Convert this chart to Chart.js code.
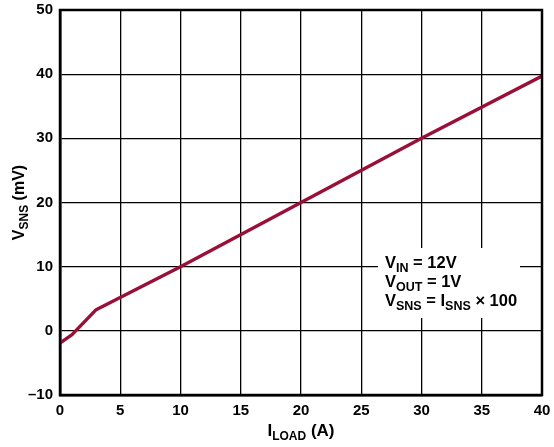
<!DOCTYPE html>
<html><head><meta charset="utf-8">
<script src="https://cdn.jsdelivr.net/npm/chart.js@4/dist/chart.umd.min.js"></script>
<style>html,body{margin:0;padding:0;background:#fff}#wrap{width:554px;height:447px}</style>
</head><body><div id="wrap"><canvas id="c" width="554" height="447"></canvas></div>
<script>
const loadCurrent = [0, 1, 3, 10, 20, 30, 40];
const senseVoltage = [-1.9, -0.6, 3.3, 10, 20, 30, 39.7];
const xTicks = [0, 5, 10, 15, 20, 25, 30, 35, 40];
const yTicks = [-10, 0, 10, 20, 30, 40, 50];
const noteLines = [
  [["V",0],["IN",1],[" = 12V",0]],
  [["V",0],["OUT",1],[" = 1V",0]],
  [["V",0],["SNS",1],[" = ",0],["I",0],["SNS",1],[" \u00d7 100",0]]
];

const FONT = '"Liberation Sans", Arial, sans-serif';
function drawRich(ctx, parts, x, y, align, big, small) {
  let w = 0;
  parts.forEach(p => { ctx.font = 'bold ' + (p[1] ? small : big) + 'px ' + FONT; w += ctx.measureText(p[0]).width; });
  let cx = align === 'center' ? x - w / 2 : x;
  parts.forEach(p => {
    ctx.font = 'bold ' + (p[1] ? small : big) + 'px ' + FONT;
    ctx.fillText(p[0], cx, y + (p[1] ? 4 : 0));
    cx += ctx.measureText(p[0]).width;
  });
}

const deco = {
  id: 'deco',
  afterDraw(chart) {
    const ctx = chart.ctx, a = chart.chartArea;
    ctx.save();
    ctx.strokeStyle = '#000'; ctx.lineWidth = 2.5;
    ctx.strokeRect(a.left, a.top, a.right - a.left, a.bottom - a.top);
    ctx.fillStyle = '#000'; ctx.textBaseline = 'alphabetic'; ctx.textAlign = 'left';
    drawRich(ctx, [["I",0],["LOAD",1],[" (A)",0]], (a.left + a.right) / 2, 436, 'center', 17, 12);
    ctx.save();
    ctx.translate(24, (a.top + a.bottom) / 2);
    ctx.rotate(-Math.PI / 2);
    drawRich(ctx, [["V",0],["SNS",1],[" (mV)",0]], 0, 0, 'center', 16, 12);
    ctx.restore();
    ctx.restore();
  },
  beforeDatasetsDraw(chart) {
    const ctx = chart.ctx;
    ctx.save();
    ctx.fillStyle = '#fff';
    ctx.fillRect(378, 248, 142, 70);
    ctx.fillStyle = '#000'; ctx.textBaseline = 'alphabetic';
    const base = [268, 287, 306];
    noteLines.forEach((ln, i) => drawRich(ctx, ln, 385, base[i], 'left', 16.5, 12.5));
    ctx.restore();
  }
};

new Chart(document.getElementById('c'), {
  type: 'line',
  data: {
    datasets: [{
      data: loadCurrent.map((x, i) => ({x: x, y: senseVoltage[i]})),
      borderColor: '#9a0f38', borderWidth: 3.4, pointRadius: 0, tension: 0, fill: false,
      borderCapStyle: 'butt', borderJoinStyle: 'round'
    }]
  },
  options: {
    responsive: false, animation: false,
    layout: {padding: {top: 10, right: 12, left: 0, bottom: 0}},
    plugins: {legend: {display: false}, tooltip: {enabled: false}},
    scales: {
      x: {
        type: 'linear', min: 0, max: 40,
        afterBuildTicks: s => { s.ticks = xTicks.map(v => ({value: v})); },
        afterFit: s => { s.height = 52; s.paddingLeft = 0; s.paddingRight = 0; },
        grid: {color: '#000', lineWidth: 1.3, drawTicks: false},
        border: {color: '#000', width: 2.5},
        ticks: {color: '#000', padding: 7, font: {family: FONT, size: 15, weight: 'bold'}, maxRotation: 0}
      },
      y: {
        type: 'linear', min: -10, max: 50,
        afterBuildTicks: s => { s.ticks = yTicks.map(v => ({value: v})); },
        afterFit: s => { s.width = 60; s.paddingTop = 0; s.paddingBottom = 0; },
        grid: {color: '#000', lineWidth: 1.3, drawTicks: false},
        border: {color: '#000', width: 2.5},
        ticks: {color: '#000', padding: 7, font: {family: FONT, size: 15, weight: 'bold'},
          callback: v => (v < 0 ? '\u2013' + Math.abs(v) : String(v))}
      }
    }
  },
  plugins: [deco]
});
</script></body></html>
